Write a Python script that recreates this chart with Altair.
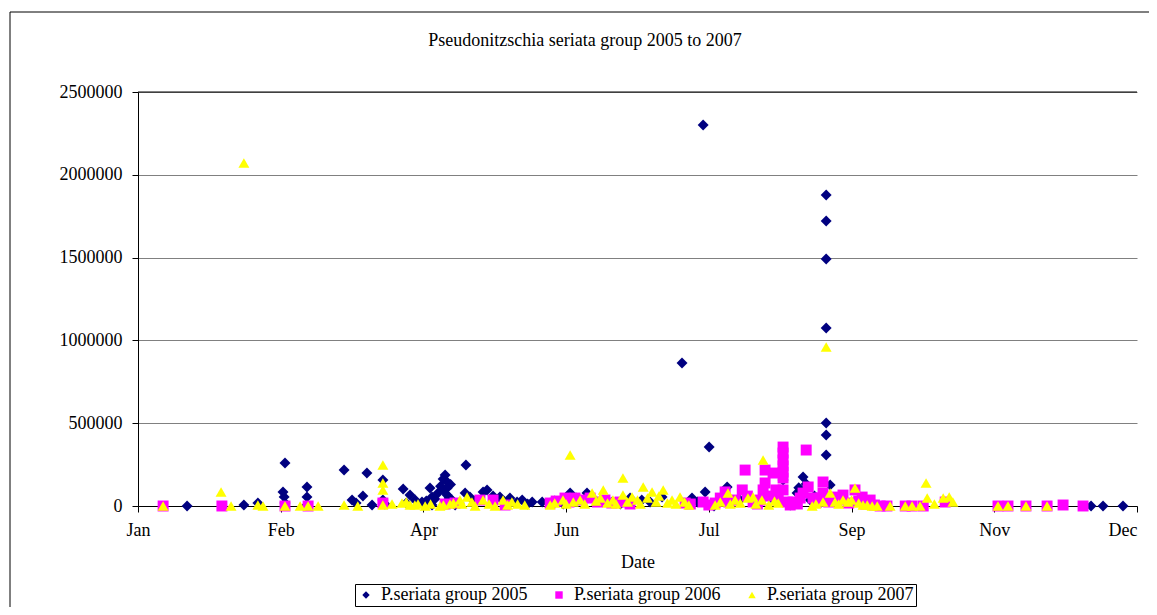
import altair as alt
import pandas as pd

# ---- data (day of year, cells per litre) ----
days_2005 = [24.2, 44.1, 49.0, 58.5, 57.8, 58.2, 58.5, 66.2, 66.2, 66.2, 79.2, 82.0, 83.4, 87.2, 85.8,
             89.0, 92.8, 92.8, 99.9, 102.3, 104.1, 106.5, 109.3, 110.0, 110.0, 112.1, 114.6, 115.3,
             115.3, 115.3, 115.3, 113.9, 116.0, 118.1, 121.9, 121.6, 123.3, 127.9, 129.3, 131.4,
             133.8, 137.3, 139.8, 141.6, 145.1, 148.6, 151.4, 158.4, 164.3, 167.1, 173.1, 179.4,
             186.4, 190.6, 197.6, 201.1, 205.0, 205.7, 207.1, 208.8, 213.4, 217.9, 221.4, 233.0,
             235.5, 237.9, 240.0, 241.1, 242.5, 248.1, 248.1, 248.1, 248.1, 248.1, 248.1, 248.1,
             249.5, 340.9, 345.1, 352.1,
             93.5, 101.0, 108.0, 111.0, 113.0, 114.0, 116.5, 117.0, 119.5, 125.0, 135.0, 143.5,
             153.0, 156.0, 160.5, 169.5, 176.0, 183.5, 203.0, 211.0, 225.0, 229.0, 238.5, 244.0,
             246.5]
vals_2005 = [0, 6000, 18000, 260000, 85000, 55000, 18000, 115000, 54000, 6000, 217000, 36000, 18000,
             199000, 60000, 6000, 157000, 36000, 103000, 66000, 36000, 24000, 109000, 54000, 6000,
             78000, 187000, 145000, 109000, 66000, 24000, 163000, 48000, 6000, 248000, 78000, 54000,
             85000, 97000, 60000, 54000, 48000, 24000, 36000, 24000, 24000, 18000, 78000, 78000,
             36000, 24000, 48000, 24000, 54000, 864000, 48000, 2301000, 85000, 356000, 0, 115000,
             36000, 54000, 157000, 6000, 78000, 175000, 133000, 36000, 1878000, 1721000, 1492000,
             1075000, 501000, 429000, 308000, 127000, 0, 0, 0,
             12000, 18000, 30000, 42000, 120000, 95000, 130000, 36000, 18000, 30000, 30000, 12000,
             30000, 12000, 48000, 30000, 12000, 36000, 24000, 30000, 30000, 48000, 110000, 60000,
             24000]

days_2006 = [15.8, 36.4, 58.5, 66.6, 92.8, 114.6, 118.1, 126.8, 131.4, 135.6, 151.4, 156.6, 160.1,
             165.4, 170.6, 175.9, 179.4, 198.7, 205.0, 209.2, 212.7, 216.2, 218.7, 219.7, 225.0,
             226.0, 226.7, 226.7, 229.5, 231.3, 233.0, 233.0, 233.0, 233.0, 233.0, 233.0, 233.0,
             235.5, 236.5, 240.0, 241.1, 241.8, 243.5, 247.0, 247.0, 250.5, 254.0, 258.2, 260.7,
             263.5, 269.4, 275.8, 278.2, 282.1, 289.8, 308.3, 311.8, 318.1, 325.5, 331.1, 338.1,
             153.5, 158.0, 162.5, 168.0, 173.0, 200.5, 207.0, 211.0, 214.0, 220.5, 222.5, 224.0,
             228.0, 230.5, 234.5, 238.0, 239.0, 244.5, 246.0, 249.0, 252.0, 256.0, 259.5, 262.0,
             265.0, 267.0]
vals_2006 = [0, 0, 0, 0, 18000, 12000, 18000, 36000, 36000, 6000, 18000, 48000, 48000, 48000, 36000,
             24000, 12000, 18000, 24000, 18000, 85000, 36000, 97000, 217000, 36000, 97000, 139000,
             217000, 199000, 36000, 356000, 320000, 278000, 242000, 205000, 169000, 97000, 6000,
             24000, 78000, 338000, 115000, 48000, 145000, 78000, 54000, 66000, 97000, 54000, 36000,
             0, 0, 0, 0, 24000, 0, 0, 0, 0, 6000, 0,
             30000, 24000, 36000, 24000, 18000, 12000, 6000, 48000, 24000, 60000, 24000, 12000,
             60000, 97000, 24000, 12000, 48000, 24000, 48000, 24000, 36000, 18000, 30000, 12000,
             6000, 0]

days_2007 = [15.8, 36.1, 39.6, 44.1, 49.0, 50.8, 58.5, 63.8, 66.6, 70.1, 79.2, 92.8, 92.8, 92.8, 92.8,
             99.5, 102.3, 105.1, 107.6, 112.8, 116.3, 119.8, 122.3, 125.1, 127.9, 132.1, 134.9, 138.0,
             151.4, 155.9, 158.4, 161.9, 166.1, 170.0, 173.4, 176.9, 176.9, 180.1, 184.0, 187.1,
             191.0, 194.1, 196.9, 209.2, 213.7, 216.2, 220.7, 222.5, 225.6, 226.0, 231.3, 243.2,
             247.0, 248.1, 249.5, 251.2, 254.0, 255.8, 258.2, 261.0, 264.2, 266.0, 275.8, 278.2,
             283.1, 283.5, 289.1, 291.2, 308.3, 311.8, 318.1, 325.5,
             140.0, 142.5, 153.0, 157.0, 159.5, 163.5, 167.5, 169.0, 171.5, 174.5, 178.5, 182.0,
             183.0, 185.5, 188.5, 189.5, 192.5, 195.5, 198.5, 200.0, 211.0, 214.5, 218.0, 223.5,
             228.0, 230.0, 244.5, 252.5, 257.0, 259.5, 262.5, 270.5, 281.0, 286.0, 292.5,
             84.0, 96.0, 101.0, 104.0, 109.5, 114.0, 117.5, 120.5, 124.0, 130.0, 136.5]
vals_2007 = [0, 85000, 0, 2071000, 6000, 0, 0, 0, 0, 0, 6000, 248000, 139000, 97000, 6000, 18000, 6000,
             12000, 0, 0, 12000, 36000, 54000, 0, 36000, 0, 36000, 24000, 6000, 36000, 308000, 36000,
             78000, 97000, 36000, 169000, 66000, 54000, 115000, 85000, 97000, 36000, 54000, 6000,
             78000, 36000, 48000, 54000, 36000, 278000, 18000, 0, 24000, 960000, 78000, 24000, 36000,
             24000, 109000, 6000, 0, 0, 0, 0, 139000, 48000, 48000, 54000, 0, 0, 0, 0,
             12000, 6000, 18000, 12000, 24000, 12000, 30000, 48000, 18000, 12000, 24000, 36000,
             12000, 48000, 24000, 60000, 18000, 12000, 24000, 6000, 24000, 12000, 18000, 12000,
             6000, 30000, 12000, 12000, 36000, 18000, 6000, 0, 0, 12000, 24000,
             0, 12000, 24000, 6000, 12000, 6000, 18000, 12000, 24000, 12000, 6000]

series_names = ["P.seriata group 2005", "P.seriata group 2006", "P.seriata group 2007"]
series_colors = ["#000080", "#FF00FF", "#FFFF00"]
series_shapes = ["diamond", "square", "triangle-up"]

tick_days = [7, 57, 107, 157, 207, 257, 307, 357]
tick_labels = ["Jan", "Feb", "Apr", "Jun", "Jul", "Sep", "Nov", "Dec"]
y_ticks = [0, 500000, 1000000, 1500000, 2000000, 2500000]

title_text = "Pseudonitzschia seriata group 2005 to 2007"

FONT = "Liberation Serif"
FS = 18

frames = []
for name, d, v in zip(series_names, [days_2005, days_2006, days_2007],
                      [vals_2005, vals_2006, vals_2007]):
    frames.append(pd.DataFrame({"day": d, "value": v, "series": name}))
df = pd.concat(frames, ignore_index=True)

label_expr = "[" + ",".join(f"'{l}'" for l in tick_labels) + "][indexof([" + \
    ",".join(str(t) for t in tick_days) + "], datum.value)]"

W, H = 999, 414

points = alt.Chart(df).mark_point(filled=True, opacity=1, size=120, strokeWidth=0).encode(
    x=alt.X("day:Q", scale=alt.Scale(domain=[7, 357], nice=False, zero=False),
            axis=alt.Axis(values=tick_days, labelExpr=label_expr, title="Date", grid=False,
                          tickSize=6, labelPadding=9, titlePadding=14, domainColor="black",
                          tickColor="black", labelFlush=False,
                          labelAlign={"condition": {"test": f"datum.value == {tick_days[-1]}",
                                                    "value": "right"},
                                      "value": "center"})),
    y=alt.Y("value:Q", scale=alt.Scale(domain=[0, 2500000], nice=False),
            axis=alt.Axis(values=y_ticks, format="d", title=None, grid=True, gridColor="#808080",
                          tickSize=6, labelPadding=10, domainColor="black", tickColor="black")),
    color=alt.Color("series:N", scale=alt.Scale(domain=series_names, range=series_colors),
                    legend=alt.Legend(title=None, orient="none", legendX=217, legendY=492,
                                      direction="horizontal", strokeColor="black", fillColor="white",
                                      padding=2, columnPadding=22, labelOffset=6, symbolSize=55,
                                      labelFont=FONT, labelFontSize=FS, labelColor="black",
                                      symbolStrokeWidth=0)),
    shape=alt.Shape("series:N", scale=alt.Scale(domain=series_names, range=series_shapes)),
)

frame_df = pd.DataFrame({"k": [0]})
border = alt.Chart(frame_df).mark_rect(fill="white", fillOpacity=0, stroke="black",
                                       strokeWidth=1).encode(
    x=alt.value(-128), x2=alt.value(1170), y=alt.value(-80), y2=alt.value(130 + H)
)
top_line = alt.Chart(frame_df).mark_rule(color="black", strokeWidth=1).encode(
    x=alt.value(0), x2=alt.value(W), y=alt.value(0)
)
title = alt.Chart(frame_df).mark_text(font=FONT, fontSize=FS, color="black", baseline="middle",
                                     align="center").encode(
    x=alt.value(447), y=alt.value(-51), text=alt.value(title_text)
)

chart = alt.layer(border, top_line, points, title).properties(
    width=W, height=H,
    autosize=alt.AutoSizeParams(type="none"),
    padding={"left": 130, "top": 84, "right": 12, "bottom": 101},
    background="white",
).configure_view(stroke=None).configure_axis(
    labelFont=FONT, labelFontSize=FS, labelColor="black", titleFont=FONT, titleFontSize=FS,
    titleFontWeight="normal", titleColor="black"
)

chart.save("out.html", embed_options={"renderer": "svg", "actions": False})
